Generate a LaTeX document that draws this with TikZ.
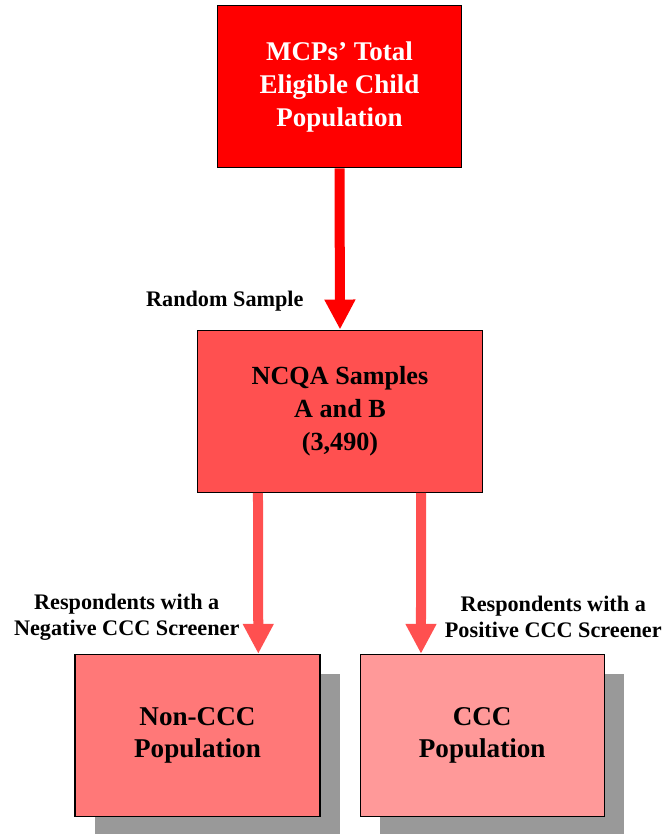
\documentclass[tikz,border=0pt]{standalone}
\usepackage{fontspec}
\setmainfont{Liberation Serif}
\usetikzlibrary{arrows.meta,shadows}

\definecolor{toprd}{RGB}{255,0,0}
\definecolor{midrd}{RGB}{255,80,80}
\definecolor{lowrd}{RGB}{255,120,120}
\definecolor{palerd}{RGB}{255,153,153}
\definecolor{shadowgray}{RGB}{153,153,153}

\tikzset{
  box/.style={draw=black, line width=0.9pt, rectangle, align=center, minimum height=4.05cm},
  lowbox/.style={box, minimum width=6.125cm, font=\fontsize{19.3}{22.8}\selectfont\bfseries,
    general shadow={fill=shadowgray, shadow xshift=0.5cm, shadow yshift=-0.5cm}},
  flow/.style={line width=0.25cm, -{Triangle[width=0.725cm,length=0.75cm]}},
  lbl/.style={align=center, font=\fontsize{15.8}{18.5}\selectfont\bfseries}
}

\begin{document}
\begin{tikzpicture}[x=0.025cm,y=-0.025cm]
\useasboundingbox (0,0) rectangle (668,834);
\node[box, fill=toprd, text=white, minimum width=6.1cm, font=\fontsize{19.2}{23.5}\selectfont\bfseries] (total) at (339.5,86.7) {MCPs’ Total\\Eligible Child\\Population};
\node[box, fill=midrd, minimum width=7.125cm, font=\fontsize{18.6}{23.8}\selectfont\bfseries] (ncqa) at (340,411.2) {NCQA Samples\\A and B\\(3,490)};
\node[lowbox, fill=lowrd] (nonccc) at (197.5,735.5) {Non-CCC\\Population};
\node[lowbox, fill=palerd, minimum width=6.1cm] (ccc) at (482.2,735.5) {CCC\\Population};

\draw[flow, toprd] (total.south) -- (ncqa.north);
\draw[flow, midrd] ([xshift=-2.05cm]ncqa.south) -- ([xshift=1.52cm]nonccc.north);
\draw[flow, midrd] ([xshift=2.025cm]ncqa.south) -- ([xshift=-1.53cm]ccc.north);

\node[lbl, anchor=base east] (rsample) at (308.5,306.5) {Random Sample};
\node[lbl] (neglbl) at (126.7,617) {Respondents with a\\Negative CCC Screener};
\node[lbl] (poslbl) at (553.3,617) {Respondents with a\\Positive CCC Screener};
\end{tikzpicture}
\end{document}
